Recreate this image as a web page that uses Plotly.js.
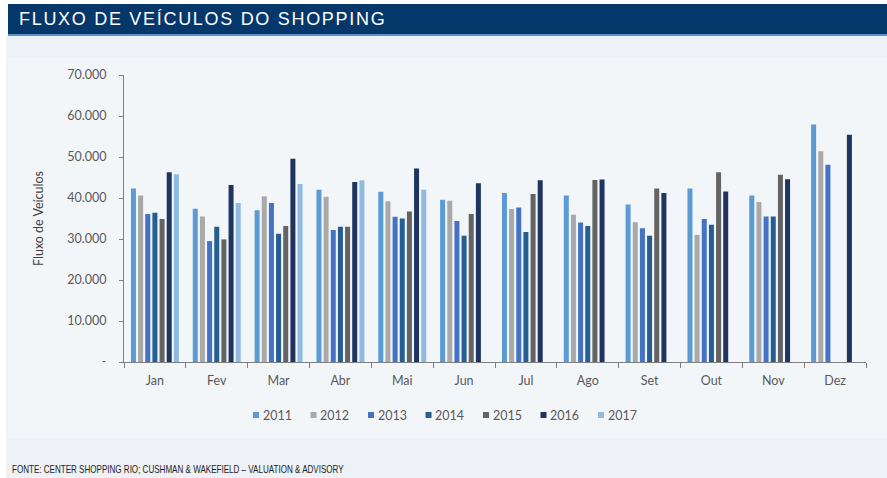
<!DOCTYPE html>
<html>
<head>
<meta charset="utf-8">
<script src="https://cdn.plot.ly/plotly-3.0.1.min.js"></script>
<style>
  html, body { margin: 0; padding: 0; background: #ffffff; }
  #page { position: relative; width: 887px; height: 478px; overflow: hidden; background: #ffffff; }
  #bg { position: absolute; left: 6px; top: 36px; width: 881px; height: 442px; background: #eef2f6; }
  #inner { position: absolute; left: 8px; top: 58px; width: 879px; height: 380px; background: #f3f6f9; }
  #header { position: absolute; left: 8px; top: 4px; width: 879px; height: 30px; background: #06376a; border-bottom: 2px solid #5d93c9; }
  #header span { position: absolute; left: 11px; top: 5px; color: #ffffff; font-family: "Liberation Sans", Arial, sans-serif; font-size: 18px; letter-spacing: 1.7px; white-space: nowrap; }
  #footer { position: absolute; left: 12px; top: 463px; color: #222222; font-family: "Liberation Sans", Arial, sans-serif; font-size: 11.5px; white-space: nowrap; transform: scaleX(0.70); transform-origin: left top; }
  #chart { position: absolute; left: 0; top: 0; width: 887px; height: 478px; }
</style>
</head>
<body>
<div id="page">
  <div id="bg"></div>
  <div id="inner"></div>
  <div id="header"><span>FLUXO DE VEÍCULOS DO SHOPPING</span></div>
  <div id="chart"></div>
  <div id="footer">FONTE: CENTER SHOPPING RIO; CUSHMAN &amp; WAKEFIELD – VALUATION &amp; ADVISORY</div>
</div>
<script>
const months = ['Jan','Fev','Mar','Abr','Mai','Jun','Jul','Ago','Set','Out','Nov','Dez'];
const years = ['2011','2012','2013','2014','2015','2016','2017'];
const v2011 = [42300, 37400, 37000, 42000, 41500, 39600, 41200, 40600, 38400, 42300, 40600, 57900];
const v2012 = [40600, 35500, 40400, 40300, 39200, 39300, 37300, 35900, 34100, 31000, 39000, 51400];
const v2013 = [36100, 29500, 38800, 32200, 35400, 34400, 37700, 34000, 32600, 34900, 35500, 48100];
const v2014 = [36400, 33000, 31300, 33000, 35000, 30800, 31700, 33200, 30800, 33500, 35500, null];
const v2015 = [34900, 29900, 33200, 33000, 36700, 36100, 41000, 44400, 42300, 46300, 45700, null];
const v2016 = [46300, 43200, 49600, 43900, 47200, 43600, 44300, 44500, 41200, 41600, 44600, 55400];
const v2017 = [45800, 38800, 43400, 44300, 42000, null, null, null, null, null, null, null];
const seriesValues = [v2011, v2012, v2013, v2014, v2015, v2016, v2017];
const colors = ['#5b9bd5', '#a9a9a9', '#4472c4', '#255e91', '#636363', '#1f3560', '#8fbbe3'];

const traces = years.map((y, i) => ({
  type: 'bar',
  name: y,
  x: months,
  y: seriesValues[i],
  marker: { color: colors[i] },
  showlegend: false,
  hoverinfo: 'x+y+name'
}));

const tickVals = [0, 10000, 20000, 30000, 40000, 50000, 60000, 70000];
const tickText = ['-', '10.000', '20.000', '30.000', '40.000', '50.000', '60.000', '70.000'];

// plot area geometry (pixels) used to place the legend entries
const W = 887, H = 478, mL = 124, mR = 21, mT = 75, mB = 116;
const pw = W - mL - mR, ph = H - mT - mB;
const px2x = px => (px - mL) / pw;
const py2y = py => (H - mB - py) / ph;

const legendStart = 253, legendStep = 57.5, legendY = 415, sq = 6;
const shapes = years.map((y, i) => ({
  type: 'rect', xref: 'paper', yref: 'paper',
  x0: px2x(legendStart + legendStep * i), x1: px2x(legendStart + legendStep * i + sq),
  y0: py2y(legendY + sq / 2), y1: py2y(legendY - sq / 2),
  fillcolor: colors[i], line: { width: 0 }
}));
const annotations = years.map((y, i) => ({
  xref: 'paper', yref: 'paper',
  x: px2x(legendStart + legendStep * i + sq + 1.5), y: py2y(legendY),
  xanchor: 'left', yanchor: 'middle', showarrow: false,
  text: y, font: { size: 12.5, color: '#595959' }
}));

const layout = {
  width: W, height: H,
  paper_bgcolor: 'rgba(0,0,0,0)',
  plot_bgcolor: 'rgba(0,0,0,0)',
  margin: { l: mL, r: mR, t: mT, b: mB },
  barmode: 'group',
  bargap: 0.19,
  bargroupgap: 0.3,
  font: { family: 'Lato, "Open Sans", sans-serif', size: 12, color: '#595959' },
  showlegend: false,
  shapes: shapes,
  annotations: annotations,
  xaxis: {
    type: 'category',
    showline: true, linecolor: '#7f7f7f', linewidth: 1,
    ticks: 'outside', tickson: 'boundaries', ticklen: 5, tickcolor: '#7f7f7f',
    ticklabelstandoff: 7,
    showgrid: false, zeroline: false,
    tickfont: { size: 12.5, color: '#595959' }
  },
  yaxis: {
    range: [0, 70000],
    tickvals: tickVals, ticktext: tickText,
    showline: true, linecolor: '#7f7f7f', linewidth: 1,
    ticks: 'outside', ticklen: 4, tickcolor: '#7f7f7f',
    ticklabelstandoff: 10,
    showgrid: false, zeroline: false,
    tickfont: { size: 12.5, color: '#595959' },
    title: { text: 'Fluxo de Veículos', font: { size: 12.5, color: '#404040' }, standoff: 20 }
  }
};

Plotly.newPlot('chart', traces, layout, { displayModeBar: false, staticPlot: true });
</script>
</body>
</html>
